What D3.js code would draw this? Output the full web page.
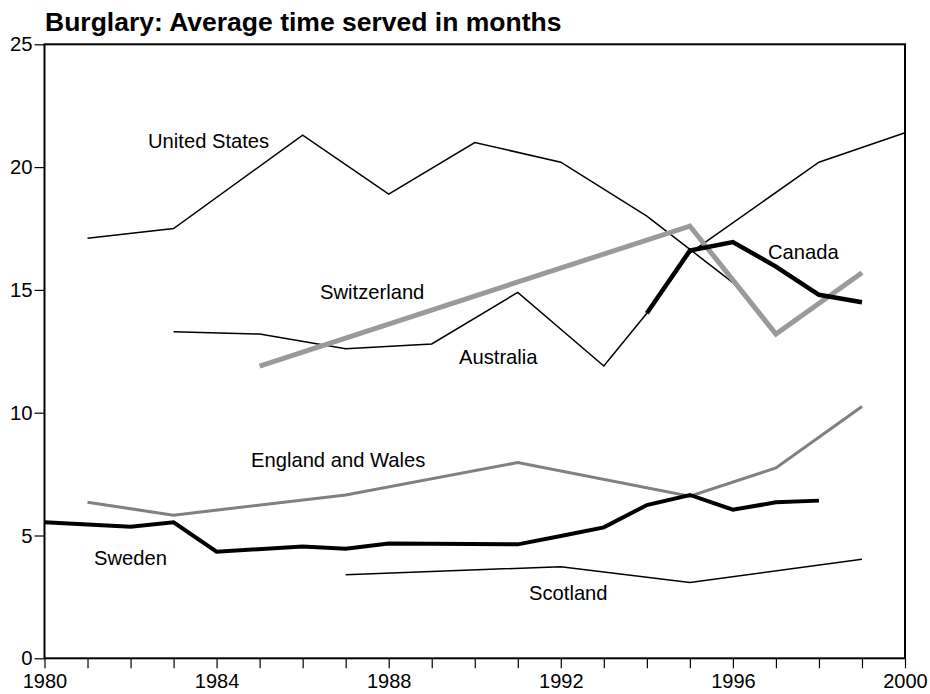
<!DOCTYPE html>
<html><head><meta charset="utf-8">
<script src="https://cdn.jsdelivr.net/npm/d3@7"></script>
<style>
body{margin:0;background:#fff;}
text{font-family:"Liberation Sans",Arial,Helvetica,sans-serif;}
</style></head>
<body><svg id="c" width="930" height="694"></svg>
<script>
const title = "Burglary: Average time served in months";
const yTicks = [0, 5, 10, 15, 20, 25];
const xLabelYears = [1980, 1984, 1988, 1992, 1996, 2000];

const unitedStatesYears  = [1981, 1983, 1986, 1988, 1990, 1992, 1994, 1996];
const unitedStatesValues = [17.1, 17.5, 21.3, 18.9, 21.0, 20.2, 18.0, 15.3];
const australiaYears  = [1983, 1985, 1987, 1989, 1991, 1993, 1994, 1995, 1998, 2000];
const australiaValues = [13.3, 13.2, 12.6, 12.8, 14.9, 11.9, 14.05, 16.5, 20.2, 21.4];
const switzerlandYears  = [1985, 1995, 1997, 1999];
const switzerlandValues = [11.9, 17.6, 13.2, 15.7];
const canadaYears  = [1994, 1995, 1996, 1997, 1998, 1999];
const canadaValues = [14.05, 16.6, 16.95, 15.95, 14.8, 14.5];
const englandWalesYears  = [1981, 1983, 1987, 1991, 1995, 1997, 1999];
const englandWalesValues = [6.35, 5.83, 6.65, 7.97, 6.6, 7.75, 10.25];
const swedenYears  = [1980, 1982, 1983, 1984, 1986, 1987, 1988, 1991, 1992, 1993, 1994, 1995, 1996, 1997, 1998];
const swedenValues = [5.54, 5.36, 5.54, 4.34, 4.55, 4.46, 4.67, 4.64, 4.98, 5.33, 6.24, 6.65, 6.05, 6.35, 6.42];
const scotlandYears  = [1987, 1992, 1995, 1999];
const scotlandValues = [3.4, 3.73, 3.09, 4.03];

const series = [
  {name:"United States", years:unitedStatesYears, values:unitedStatesValues, color:"#000", width:1.5, label:[148,148]},
  {name:"Australia", years:australiaYears, values:australiaValues, color:"#000", width:1.5, label:[459,364]},
  {name:"Scotland", years:scotlandYears, values:scotlandValues, color:"#000", width:1.5, label:[529,600]},
  {name:"England and Wales", years:englandWalesYears, values:englandWalesValues, color:"#808080", width:3, label:[251,467]},
  {name:"Switzerland", years:switzerlandYears, values:switzerlandValues, color:"#9a9a9a", width:5, label:[320,299]},
  {name:"Sweden", years:swedenYears, values:swedenValues, color:"#000", width:4, label:[94,565]},
  {name:"Canada", years:canadaYears, values:canadaValues, color:"#000", width:4.5, label:[768,259]}
];

const svg = d3.select("#c");
const x = d3.scaleLinear().domain([1980, 2000]).range([44.5, 905]);
const y = d3.scaleLinear().domain([0, 25]).range([658.3, 44.3]);

svg.append("text").attr("x", 45).attr("y", 31).attr("font-size", 26.5).attr("font-weight", "bold").text(title);

// frame
svg.append("rect").attr("x", x(1980)).attr("y", y(25)).attr("width", x(2000)-x(1980)).attr("height", y(0)-y(25))
  .attr("fill", "none").attr("stroke", "#000").attr("stroke-width", 2);

const xAxis = d3.axisBottom(x).tickValues(d3.range(1980, 2001)).tickSize(10).tickSizeOuter(0)
  .tickFormat(d => xLabelYears.includes(d) ? d : "");
const gx = svg.append("g").attr("transform", `translate(0,${y(0)})`).call(xAxis);
gx.select(".domain").remove();
gx.selectAll("line").attr("stroke-width", 1.2);
gx.selectAll("text").attr("font-size", 20).attr("dy", "0.84em").attr("fill", "#000");

const yAxis = d3.axisLeft(y).tickValues(yTicks).tickSize(10).tickSizeOuter(0);
const gy = svg.append("g").attr("transform", `translate(${x(1980)},0)`).call(yAxis);
gy.select(".domain").remove();
gy.selectAll("line").attr("stroke-width", 1.2);
gy.selectAll("text").attr("font-size", 20.3).attr("x", -12).attr("fill", "#000");

const line = d3.line().x(d => x(d[0])).y(d => y(d[1]));
series.forEach(s => {
  svg.append("path").datum(s.years.map((yr, i) => [yr, s.values[i]]))
    .attr("d", line).attr("fill", "none").attr("stroke", s.color).attr("stroke-width", s.width)
    .attr("stroke-linejoin", "miter");
});
series.forEach(s => {
  svg.append("text").attr("x", s.label[0]).attr("y", s.label[1]).attr("font-size", 20.2).attr("fill", "#000").text(s.name);
});
</script></body></html>
